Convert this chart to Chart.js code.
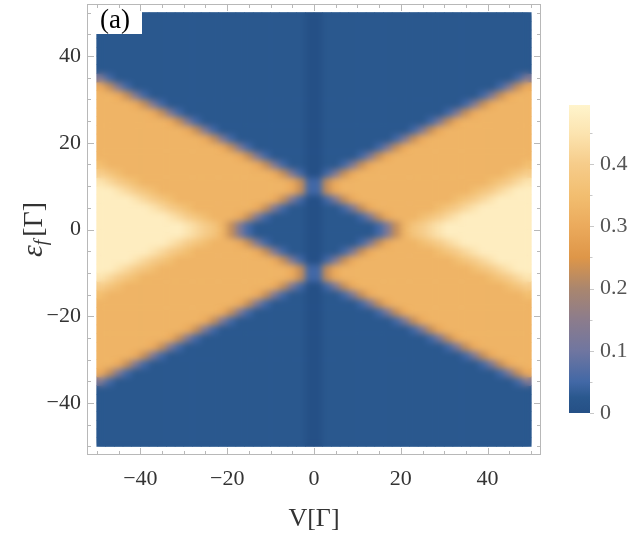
<!DOCTYPE html>
<html>
<head>
<meta charset="utf-8">
<script src="https://cdn.jsdelivr.net/npm/chart.js@4.4.0/dist/chart.umd.min.js"></script>
<style>
  html, body { margin: 0; padding: 0; background: #fff; }
  #wrap { position: relative; width: 640px; height: 536px; overflow: hidden; }
  #mapChart { position: absolute; left: 0; top: 0; }
  #barChart { position: absolute; left: 555px; top: 95px; }
</style>
</head>
<body>
<div id="wrap">
  <canvas id="mapChart" width="640" height="536"></canvas>
  <canvas id="barChart" width="85" height="340"></canvas>
</div>
<script>
const mapCanvas = document.getElementById("mapChart");
const barCanvas = document.getElementById("barChart");
const serif = '"Liberation Serif", "Times New Roman", serif';

// cell centres, V (columns) and eps_f (rows, top to bottom)
const vValues = [-49, -47, -45, -43, -41, -39, -37, -35, -33, -31, -29, -27, -25, -23, -21, -19, -17, -15, -13, -11, -9, -7, -5, -3, -1,
  1, 3, 5, 7, 9, 11, 13, 15, 17, 19, 21, 23, 25, 27, 29, 31, 33, 35, 37, 39, 41, 43, 45, 47, 49];
const epsValues = [49, 47, 45, 43, 41, 39, 37, 35, 33, 31, 29, 27, 25, 23, 21, 19, 17, 15, 13, 11, 9, 7, 5, 3, 1,
  -1, -3, -5, -7, -9, -11, -13, -15, -17, -19, -21, -23, -25, -27, -29, -31, -33, -35, -37, -39, -41, -43, -45, -47, -49];

// current, one letter per cell (key below)
const levelKeys = "0123456789ABCDEFGHIJ";
const levelCurrent = [0, 0.025, 0.05, 0.075, 0.1, 0.125, 0.15, 0.175, 0.2, 0.225,
  0.25, 0.275, 0.3, 0.325, 0.35, 0.375, 0.4, 0.425, 0.45, 0.475];
const currentRows = [
  "11111 11111 11111 11111 11110 01111 11111 11111 11111 11111",
  "11111 11111 11111 11111 11110 01111 11111 11111 11111 11111",
  "11111 11111 11111 11111 11110 01111 11111 11111 11111 11111",
  "11111 11111 11111 11111 11110 01111 11111 11111 11111 11111",
  "11111 11111 11111 11111 11110 01111 11111 11111 11111 11111",
  "11111 11111 11111 11111 11110 01111 11111 11111 11111 11111",
  "11111 11111 11111 11111 11110 01111 11111 11111 11111 11111",
  "52111 11111 11111 11111 11110 01111 11111 11111 11111 11125",
  "C9521 11111 11111 11111 11110 01111 11111 11111 11111 1259C",
  "DDC95 21111 11111 11111 11110 01111 11111 11111 11112 59CDD",
  "DDDDC 95211 11111 11111 11110 01111 11111 11111 11259 CDDDD",
  "DDDDD DC952 11111 11111 11110 01111 11111 11111 259CD DDDDD",
  "DDDDD DDDC9 52111 11111 11110 01111 11111 11125 9CDDD DDDDD",
  "DDDDD DDDDD C9521 11111 11110 01111 11111 1259C DDDDD DDDDD",
  "DDDDD DDDDD DDC95 21111 11110 01111 11112 59CDD DDDDD DDDDD",
  "DDDDD DDDDD DDDDC 95211 11110 01111 11259 CDDDD DDDDD DDDDD",
  "DDDDD DDDDD DDDDD DC952 11110 01111 259CD DDDDD DDDDD DDDDD",
  "EDDDD DDDDD DDDDD DDDC9 52110 01125 9CDDD DDDDD DDDDD DDDDE",
  "GFEDD DDDDD DDDDD DDDDD C9520 0259C DDDDD DDDDD DDDDD DDEFG",
  "IHGFE DDDDD DDDDD DDDDD DDC92 29CDD DDDDD DDDDD DDDDD EFGHI",
  "JJIHG FEDDD DDDDD DDDDD DDC92 29CDD DDDDD DDDDD DDDEF GHIJJ",
  "JJJJI HGFED DDDDD DDDDD C9520 0259C DDDDD DDDDD DEFGH IJJJJ",
  "JJJJJ JIHGF EDDDD DDDC9 52110 01125 9CDDD DDDDE FGHIJ JJJJJ",
  "JJJJJ JJJIH GFEDD DC952 11110 01111 259CD DDEFG HIJJJ JJJJJ",
  "JJJJJ JJJJJ IHGFD 95211 11110 01111 11259 DFGHI JJJJJ JJJJJ",
  "JJJJJ JJJJJ IHGFD 95211 11110 01111 11259 DFGHI JJJJJ JJJJJ",
  "JJJJJ JJJIH GFEDD DC952 11110 01111 259CD DDEFG HIJJJ JJJJJ",
  "JJJJJ JIHGF EDDDD DDDC9 52110 01125 9CDDD DDDDE FGHIJ JJJJJ",
  "JJJJI HGFED DDDDD DDDDD C9520 0259C DDDDD DDDDD DEFGH IJJJJ",
  "JJIHG FEDDD DDDDD DDDDD DDC92 29CDD DDDDD DDDDD DDDEF GHIJJ",
  "IHGFE DDDDD DDDDD DDDDD DDC92 29CDD DDDDD DDDDD DDDDD EFGHI",
  "GFEDD DDDDD DDDDD DDDDD C9520 0259C DDDDD DDDDD DDDDD DDEFG",
  "EDDDD DDDDD DDDDD DDDC9 52110 01125 9CDDD DDDDD DDDDD DDDDE",
  "DDDDD DDDDD DDDDD DC952 11110 01111 259CD DDDDD DDDDD DDDDD",
  "DDDDD DDDDD DDDDC 95211 11110 01111 11259 CDDDD DDDDD DDDDD",
  "DDDDD DDDDD DDC95 21111 11110 01111 11112 59CDD DDDDD DDDDD",
  "DDDDD DDDDD C9521 11111 11110 01111 11111 1259C DDDDD DDDDD",
  "DDDDD DDDC9 52111 11111 11110 01111 11111 11125 9CDDD DDDDD",
  "DDDDD DC952 11111 11111 11110 01111 11111 11111 259CD DDDDD",
  "DDDDC 95211 11111 11111 11110 01111 11111 11111 11259 CDDDD",
  "DDC95 21111 11111 11111 11110 01111 11111 11111 11112 59CDD",
  "C9521 11111 11111 11111 11110 01111 11111 11111 11111 1259C",
  "52111 11111 11111 11111 11110 01111 11111 11111 11111 11125",
  "11111 11111 11111 11111 11110 01111 11111 11111 11111 11111",
  "11111 11111 11111 11111 11110 01111 11111 11111 11111 11111",
  "11111 11111 11111 11111 11110 01111 11111 11111 11111 11111",
  "11111 11111 11111 11111 11110 01111 11111 11111 11111 11111",
  "11111 11111 11111 11111 11110 01111 11111 11111 11111 11111",
  "11111 11111 11111 11111 11110 01111 11111 11111 11111 11111",
  "11111 11111 11111 11111 11110 01111 11111 11111 11111 11111",
];

const tickValues = [-40, -20, 0, 20, 40];
const minorTickValues = [-50, -45, -40, -35, -30, -25, -20, -15, -10, -5, 0, 5, 10, 15, 20, 25, 30, 35, 40, 45, 50];
const colorbarTicks = [0, 0.1, 0.2, 0.3, 0.4];
const colorbarMinor = [0, 0.05, 0.1, 0.15, 0.2, 0.25, 0.3, 0.35, 0.4, 0.45];
const colorbarMax = 0.495;

// colour scale (blue -> grey -> orange -> pale yellow)
const colorStops = [0, 0.025, 0.05, 0.1, 0.15, 0.2, 0.25, 0.3, 0.35, 0.4, 0.45, 0.495];
const colorRGB = [
  [37, 80, 134],
  [42, 88, 142],
  [66, 104, 166],
  [112, 118, 160],
  [140, 124, 140],
  [170, 134, 110],
  [222, 150, 72],
  [235, 170, 92],
  [242, 190, 112],
  [246, 204, 138],
  [252, 228, 176],
  [255, 244, 204],
];

function rgb(c) {
  return `rgb(${c[0]}, ${c[1]}, ${c[2]})`;
}

function currentColor(value) {
  let k = 0;
  while (k < colorStops.length - 2 && value > colorStops[k + 1]) k++;
  const t = Math.min(1, Math.max(0, (value - colorStops[k]) / (colorStops[k + 1] - colorStops[k])));
  const a = colorRGB[k];
  const b = colorRGB[k + 1];
  return rgb(a.map((v, i) => Math.round(v + (b[i] - v) * t)));
}

function minusLabel(value) {
  return value < 0 ? "\u2212" + Math.abs(value) : String(value);
}

// keep the plot area where it is: no extra room for half tick labels
function noLabelPadding(scale) {
  scale.paddingTop = 0;
  scale.paddingBottom = 0;
  scale.paddingLeft = 0;
  scale.paddingRight = 0;
}

const mapDatasets = currentRows.map((row, i) => {
  const cells = row.replace(/ /g, "");
  const eps = epsValues[i];
  return {
    data: vValues.map((v) => ({ x: v, y: [eps - 1, eps + 1] })),
    backgroundColor: vValues.map((v, j) => currentColor(levelCurrent[levelKeys.indexOf(cells[j])])),
  };
});

// soften the cell edges, then frame, ticks, "(a)" and the y title
const framePlugin = {
  id: "frame",
  afterDatasetsDraw(chart) {
    const { ctx, scales } = chart;
    const x0 = Math.floor(scales.x.getPixelForValue(-50));
    const x1 = Math.ceil(scales.x.getPixelForValue(50));
    const y0 = Math.floor(scales.y.getPixelForValue(50));
    const y1 = Math.ceil(scales.y.getPixelForValue(-50));
    const w = x1 - x0;
    const h = y1 - y0;
    const copy = document.createElement("canvas");
    copy.width = w;
    copy.height = h;
    copy.getContext("2d").drawImage(chart.canvas, x0, y0, w, h, 0, 0, w, h);
    ctx.save();
    ctx.beginPath();
    ctx.rect(x0, y0, w, h);
    ctx.clip();
    ctx.filter = "blur(3px)";
    ctx.drawImage(copy, x0, y0);
    ctx.restore();

    ctx.save();
    ctx.fillStyle = "#fff";
    ctx.fillRect(x0, y0 - 1, 46, 23);
    ctx.fillStyle = "#000";
    ctx.font = `27px ${serif}`;
    ctx.textBaseline = "alphabetic";
    ctx.fillText("(a)", x0 + 4, y0 + 16);
    ctx.restore();
  },
  afterDraw(chart) {
    const { ctx, chartArea: area, scales } = chart;
    ctx.save();
    ctx.strokeStyle = "#b8b8b8";
    ctx.lineWidth = 1;
    ctx.strokeRect(area.left + 0.5, area.top + 0.5, area.width - 1, area.height - 1);
    ctx.beginPath();
    minorTickValues.forEach((v) => {
      const len = tickValues.includes(v) ? 7 : 4;
      const px = Math.round(scales.x.getPixelForValue(v)) + 0.5;
      const py = Math.round(scales.y.getPixelForValue(v)) + 0.5;
      ctx.moveTo(px, area.bottom);
      ctx.lineTo(px, area.bottom - len);
      ctx.moveTo(px, area.top);
      ctx.lineTo(px, area.top + len);
      ctx.moveTo(area.left, py);
      ctx.lineTo(area.left + len, py);
      ctx.moveTo(area.right, py);
      ctx.lineTo(area.right - len, py);
    });
    ctx.stroke();

    // y axis title: eps_f[Gamma]
    const cy = scales.y.getPixelForValue(0);
    ctx.translate(42, cy);
    ctx.rotate(-Math.PI / 2);
    ctx.fillStyle = "#333";
    ctx.textBaseline = "alphabetic";
    const parts = [
      { text: "\u03b5", font: `italic 30px ${serif}`, dy: 0 },
      { text: "f", font: `italic 19px ${serif}`, dy: 5 },
      { text: "[\u0393]", font: `28px ${serif}`, dy: 0 },
    ];
    let total = 0;
    parts.forEach((p) => {
      ctx.font = p.font;
      p.w = ctx.measureText(p.text).width + (p.text === "f" ? 3 : 0);
      total += p.w;
    });
    let x = -total / 2;
    parts.forEach((p) => {
      ctx.font = p.font;
      ctx.fillText(p.text, x, p.dy);
      x += p.w;
    });
    ctx.restore();
  },
};

new Chart(mapCanvas, {
  type: "bar",
  data: { datasets: mapDatasets },
  options: {
    responsive: false,
    animation: false,
    events: [],
    layout: { padding: { top: 4, right: 99, left: 0, bottom: 0 } },
    datasets: { bar: { grouped: false, barPercentage: 1, categoryPercentage: 1 } },
    plugins: { legend: { display: false }, tooltip: { enabled: false } },
    scales: {
      x: {
        type: "linear",
        min: -52.3,
        max: 52.3,
        offset: false,
        afterFit(scale) { scale.height = 81; noLabelPadding(scale); },
        afterBuildTicks(scale) { scale.ticks = tickValues.map((v) => ({ value: v })); },
        grid: { display: false, drawTicks: false, offset: false },
        border: { display: false },
        ticks: {
          padding: 11,
          maxRotation: 0,
          color: "#333",
          font: { family: serif, size: 22 },
          callback: (v) => minusLabel(v),
        },
        title: {
          display: true,
          text: "V[\u0393]",
          color: "#333",
          font: { family: serif, size: 26 },
          padding: { top: 0, bottom: 1 },
        },
      },
      y: {
        type: "linear",
        min: -52,
        max: 52,
        afterFit(scale) { scale.width = 87; noLabelPadding(scale); },
        afterBuildTicks(scale) { scale.ticks = tickValues.map((v) => ({ value: v })); },
        grid: { display: false, drawTicks: false },
        border: { display: false },
        ticks: {
          padding: 6,
          color: "#333",
          font: { family: serif, size: 22 },
          callback: (v) => minusLabel(v),
        },
      },
    },
  },
  plugins: [framePlugin],
});

// colour bar legend
const barTicksPlugin = {
  id: "barTicks",
  afterDraw(chart) {
    const { ctx, chartArea: area, scales } = chart;
    ctx.save();
    ctx.strokeStyle = "#c8c8c8";
    ctx.lineWidth = 1;
    ctx.beginPath();
    colorbarMinor.forEach((v) => {
      const py = Math.round(scales.y.getPixelForValue(v)) + 0.5;
      const len = colorbarTicks.includes(v) ? 4 : 2.5;
      ctx.moveTo(area.right, py);
      ctx.lineTo(area.right + len, py);
    });
    ctx.stroke();
    ctx.restore();
  },
};

new Chart(barCanvas, {
  type: "bar",
  data: {
    labels: ["current"],
    datasets: [
      {
        data: [[0, colorbarMax]],
        backgroundColor(context) {
          const { chart } = context;
          const { ctx, chartArea, scales } = chart;
          if (!chartArea) return null;
          const g = ctx.createLinearGradient(0, scales.y.getPixelForValue(0), 0, scales.y.getPixelForValue(colorbarMax));
          colorStops.forEach((s, i) => g.addColorStop(s / colorbarMax, rgb(colorRGB[i])));
          return g;
        },
      },
    ],
  },
  options: {
    responsive: false,
    animation: false,
    events: [],
    layout: { padding: { left: 14, top: 10, bottom: 22, right: 0 } },
    datasets: { bar: { barPercentage: 1, categoryPercentage: 1 } },
    plugins: { legend: { display: false }, tooltip: { enabled: false } },
    scales: {
      x: { display: false },
      y: {
        position: "right",
        min: 0,
        max: colorbarMax,
        afterFit(scale) { scale.width = 50; noLabelPadding(scale); },
        afterBuildTicks(scale) { scale.ticks = colorbarTicks.map((v) => ({ value: v })); },
        grid: { display: false, drawTicks: false },
        border: { display: false },
        ticks: {
          padding: 10,
          color: "#555",
          font: { family: serif, size: 22 },
          callback: (v) => (v === 0 ? "0" : v.toFixed(1)),
        },
      },
    },
  },
  plugins: [barTicksPlugin],
});
</script>
</body>
</html>
